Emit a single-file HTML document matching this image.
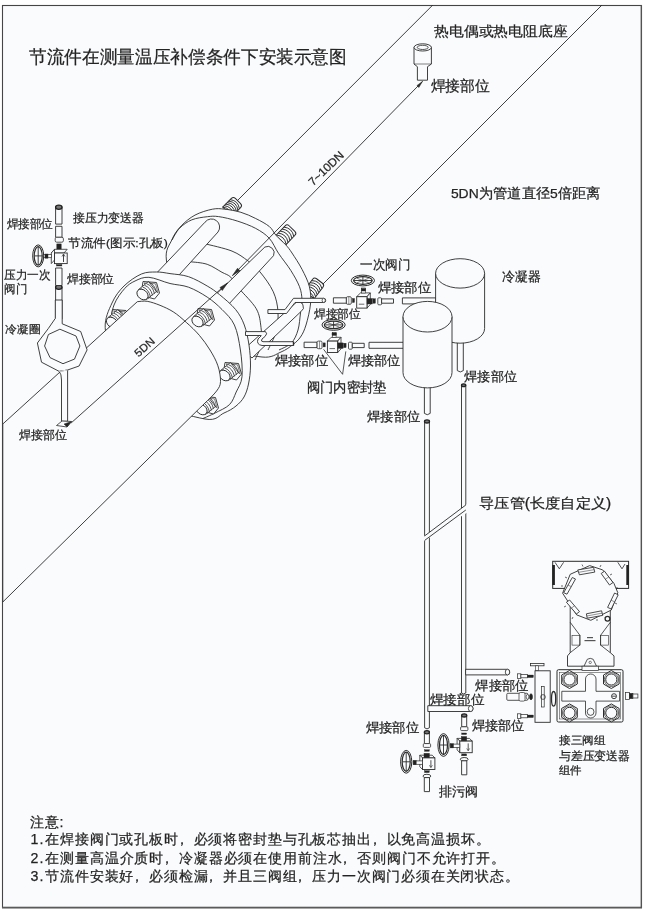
<!DOCTYPE html><html><head><meta charset="utf-8"><style>
html,body{margin:0;padding:0;background:#fff;width:646px;height:912px;overflow:hidden}
svg{position:absolute;left:0;top:0}
text{font-family:"Liberation Sans",sans-serif;stroke:#2a2a2a;stroke-width:0.25px}
svg{-webkit-font-smoothing:antialiased;will-change:transform}
</style></head><body>
<svg width="646" height="912" viewBox="0 0 646 912">
<rect x="2.5" y="5.5" width="639" height="902" fill="#fafbfd" stroke="#454545" stroke-width="1.1"/>
<line x1="2.0" y1="907.6" x2="642.0" y2="907.6" stroke="#5a5a5a" stroke-width="1.6"/>
<line x1="641.3" y1="5.0" x2="641.3" y2="908.0" stroke="#555" stroke-width="1.3"/>
<line x1="432.8" y1="5.0" x2="236.0" y2="202.0" stroke="#2b2b2b" stroke-width="0.9"/>
<line x1="602.0" y1="5.0" x2="323.0" y2="284.0" stroke="#2b2b2b" stroke-width="0.9"/>
<g transform="translate(228.0 211.0) rotate(-45.0)"><path d="M-1 -6.5 L11.3 -6.5 Q14.1 -6.5 14.1 -3.7 L14.1 3.7 Q14.1 6.5 11.3 6.5 L-1 6.5 Z" fill="#fafbfd" stroke="#2b2b2b" stroke-width="1"/><path d="M-1.0 -6.5 Q4.0 0 -1.0 6.5" fill="none" stroke="#2b2b2b" stroke-width="0.9"/><path d="M1.1 -6.5 Q6.1 0 1.1 6.5" fill="none" stroke="#2b2b2b" stroke-width="0.9"/><path d="M3.3 -6.5 Q8.3 0 3.3 6.5" fill="none" stroke="#2b2b2b" stroke-width="0.9"/><path d="M5.4 -6.5 Q10.4 0 5.4 6.5" fill="none" stroke="#2b2b2b" stroke-width="0.9"/><path d="M7.5 -6.5 Q12.5 0 7.5 6.5" fill="none" stroke="#2b2b2b" stroke-width="0.9"/><path d="M9.6 -6.5 Q14.6 0 9.6 6.5" fill="none" stroke="#2b2b2b" stroke-width="0.9"/></g>
<g transform="translate(280.0 241.0) rotate(-46.2)"><path d="M-1 -6.8 L14.5 -6.8 Q17.3 -6.8 17.3 -4.0 L17.3 4.0 Q17.3 6.8 14.5 6.8 L-1 6.8 Z" fill="#fafbfd" stroke="#2b2b2b" stroke-width="1"/><path d="M-1.0 -6.8 Q4.0 0 -1.0 6.8" fill="none" stroke="#2b2b2b" stroke-width="0.9"/><path d="M1.8 -6.8 Q6.8 0 1.8 6.8" fill="none" stroke="#2b2b2b" stroke-width="0.9"/><path d="M4.5 -6.8 Q9.5 0 4.5 6.8" fill="none" stroke="#2b2b2b" stroke-width="0.9"/><path d="M7.3 -6.8 Q12.3 0 7.3 6.8" fill="none" stroke="#2b2b2b" stroke-width="0.9"/><path d="M10.1 -6.8 Q15.1 0 10.1 6.8" fill="none" stroke="#2b2b2b" stroke-width="0.9"/><path d="M12.8 -6.8 Q17.8 0 12.8 6.8" fill="none" stroke="#2b2b2b" stroke-width="0.9"/></g>
<g transform="translate(309.5 294.0) rotate(-52.4)"><path d="M-1 -6.5 L13.6 -6.5 Q16.4 -6.5 16.4 -3.7 L16.4 3.7 Q16.4 6.5 13.6 6.5 L-1 6.5 Z" fill="#fafbfd" stroke="#2b2b2b" stroke-width="1"/><path d="M-1.0 -6.5 Q4.0 0 -1.0 6.5" fill="none" stroke="#2b2b2b" stroke-width="0.9"/><path d="M1.6 -6.5 Q6.6 0 1.6 6.5" fill="none" stroke="#2b2b2b" stroke-width="0.9"/><path d="M4.2 -6.5 Q9.2 0 4.2 6.5" fill="none" stroke="#2b2b2b" stroke-width="0.9"/><path d="M6.7 -6.5 Q11.7 0 6.7 6.5" fill="none" stroke="#2b2b2b" stroke-width="0.9"/><path d="M9.3 -6.5 Q14.3 0 9.3 6.5" fill="none" stroke="#2b2b2b" stroke-width="0.9"/><path d="M11.9 -6.5 Q16.9 0 11.9 6.5" fill="none" stroke="#2b2b2b" stroke-width="0.9"/></g>
<path d="M166.4 260.0 C165.0 249.2 169.4 245.6 171.8 239.9 C174.2 234.2 177.2 230.1 181.1 226.0 C185.0 221.9 189.8 217.9 195.0 215.1 C200.2 212.3 207.4 210.2 212.4 209.2 C217.4 208.2 220.1 208.7 224.8 209.2 C229.6 209.7 235.8 210.8 240.9 212.3 C246.1 213.9 251.0 216.1 255.7 218.5 C260.4 220.9 265.9 223.7 269.3 226.5 C272.7 229.3 273.3 232.2 276.0 235.3 C278.7 238.4 283.0 241.9 285.7 244.8 C288.4 247.8 289.3 248.9 292.0 253.0 C294.7 257.1 299.1 263.7 302.0 269.3 C304.9 274.9 308.0 280.9 309.4 286.7 C310.8 292.5 311.1 297.6 310.5 304.0 C309.9 310.4 307.7 319.5 306.0 325.0 C304.3 330.5 302.7 333.8 300.5 337.0 C298.3 340.2 296.2 342.0 293.0 344.5 C289.8 347.0 286.2 349.9 281.0 352.0 C275.8 354.1 272.2 358.2 262.0 357.0 C251.8 355.8 233.7 353.7 220.0 345.0 C206.3 336.3 188.9 319.2 180.0 305.0 C171.1 290.8 167.8 270.9 166.4 260.0 Z" fill="#fafbfd" stroke="#2b2b2b" stroke-width="0.9" />
<path d="M172.0 240.0 C173.2 238.1 176.2 231.7 179.5 228.3 C182.8 224.9 187.2 221.7 191.9 219.8 C196.6 217.9 203.0 217.2 207.4 216.7 C211.8 216.2 213.6 215.9 218.6 216.6 C223.6 217.3 231.0 219.0 237.2 221.0 C243.4 223.0 250.3 225.5 255.7 228.4 C261.1 231.3 265.5 234.2 269.3 238.3 C273.1 242.5 274.9 247.9 278.5 253.3 C282.1 258.7 287.4 265.0 290.9 270.6 C294.4 276.2 297.6 281.8 299.5 286.7 C301.4 291.6 301.8 295.6 302.0 300.0 C302.2 304.4 301.2 308.0 300.5 313.0 C299.8 318.0 299.5 325.0 298.0 330.0 C296.5 335.0 294.6 339.7 291.4 343.0 C288.2 346.3 281.1 348.8 279.0 350.0" fill="none" stroke="#2b2b2b" stroke-width="0.9" />
<path d="M204.8 243.7 C209.3 244.9 224.8 248.2 232.0 251.1 C239.2 254.0 243.4 257.6 248.1 261.0 C252.8 264.4 255.7 266.7 259.9 271.8 C264.1 276.9 270.3 285.1 273.3 291.8 C276.3 298.5 277.6 305.3 278.0 312.0 C278.4 318.7 277.7 325.7 276.0 332.0 C274.3 338.3 269.3 347.0 268.0 350.0" fill="none" stroke="#2b2b2b" stroke-width="0.9" />
<path d="M189.9 261.7 C192.8 262.1 201.8 262.5 207.2 264.3 C212.5 266.1 218.1 270.2 222.0 272.3 C225.9 274.4 227.9 274.5 230.8 277.2 C233.7 279.9 235.1 283.4 239.3 288.7 C243.6 294.0 252.7 302.4 256.3 308.8 C259.9 315.2 260.2 321.4 261.0 327.4 C261.8 333.4 262.0 339.6 261.0 345.0 C260.0 350.4 256.0 357.5 255.0 360.0" fill="none" stroke="#2b2b2b" stroke-width="0.9" />
<path d="M205 222.2 L150 280 L170 285 L218 232 A7.5 7.5 0 0 0 205 222.2 Z" fill="#fafbfd" stroke="#2b2b2b" stroke-width="0.9" />
<path d="M264.9 247 L205 305 L228 305 L273.5 255.7 A6.5 6.5 0 0 0 264.9 247 Z" fill="#fafbfd" stroke="#2b2b2b" stroke-width="0.9" />
<path d="M296.5 302.2 L243 350 L252 358 L301 311.5 A5.2 5.2 0 0 0 296.5 302.2 Z" fill="#fafbfd" stroke="#2b2b2b" stroke-width="0.9" />
<line x1="422.5" y1="81.4" x2="232.5" y2="275.5" stroke="#2b2b2b" stroke-width="0.9"/>
<polygon points="422.5,81.4 417.0,85.5 418.8,87.5" fill="#2b2b2b" stroke="#2b2b2b" stroke-width="0.5" stroke-linejoin="round"/>
<polygon points="232.5,275.5 237.5,268.3 240.0,270.8" fill="#2b2b2b" stroke="#2b2b2b" stroke-width="0.6" stroke-linejoin="round"/>
<path d="M105.2 327.5 C104.7 318.0 108.9 309.9 112.0 303.0 C115.1 296.1 119.1 290.8 124.0 286.0 C128.9 281.2 136.0 276.3 141.4 274.0 C146.8 271.7 151.5 272.1 156.3 272.0 C161.1 271.9 164.6 272.8 170.0 273.6 C175.4 274.4 182.4 274.6 188.6 276.7 C194.8 278.8 202.0 283.0 207.2 286.0 C212.3 289.0 214.8 290.7 219.5 294.6 C224.2 298.5 231.5 304.4 235.6 309.5 C239.7 314.6 242.1 319.1 244.3 325.0 C246.5 330.9 248.0 338.2 249.0 345.0 C250.0 351.8 250.6 359.5 250.5 366.0 C250.4 372.5 249.6 378.8 248.5 384.0 C247.4 389.2 246.1 393.3 244.0 397.0 C241.9 400.7 239.3 403.3 236.0 406.0 C232.7 408.7 229.2 410.8 224.0 413.0 C218.8 415.2 217.3 421.2 205.0 419.0 C192.7 416.8 165.0 409.8 150.0 400.0 C135.0 390.2 122.5 372.1 115.0 360.0 C107.5 347.9 105.7 337.0 105.2 327.5 Z" fill="#fafbfd" stroke="#2b2b2b" stroke-width="0.9" />
<path d="M109.0 329.0 C109.8 325.0 111.4 311.8 114.0 305.0 C116.6 298.2 121.2 292.5 124.7 288.5 C128.2 284.5 131.0 282.9 135.0 281.0 C139.0 279.1 143.1 276.9 148.9 277.3 C154.7 277.7 163.4 281.9 170.0 283.5 C176.6 285.1 182.4 284.9 188.6 287.2 C194.8 289.5 201.6 293.4 207.2 297.1 C212.8 300.8 217.5 304.9 222.0 309.5 C226.5 314.1 231.3 318.2 234.4 325.0 C237.5 331.8 239.1 341.4 240.4 350.0 C241.7 358.6 242.7 369.7 242.0 376.7 C241.3 383.7 238.3 387.4 236.2 392.0 C234.1 396.6 233.0 401.1 229.5 404.6 C226.0 408.1 219.4 410.7 215.0 413.0 C210.6 415.3 205.0 417.6 203.0 418.5" fill="none" stroke="#2b2b2b" stroke-width="0.9" />
<g transform="translate(151.0 289.0) scale(1.0)"><polygon points="-8,-7.5 5.5,-6.5 8.5,4 3.5,10 -2,8.5 -9,-1" fill="#fafbfd" stroke="#2b2b2b" stroke-width="0.9" stroke-linejoin="round"/><polygon points="-7,-6 4.5,-5.2 7,3.8" fill="none" stroke="#2b2b2b" stroke-width="0.6"/><path d="M-12.5 0.5 L-2.5 -7.5 L5.5 2.5 L-4.5 10.5 Z" fill="#fafbfd" stroke="#2b2b2b" stroke-width="0.8"/><path d="M-10.5 -0.5 Q-4.5 1.5 -2.5 9.5" fill="none" stroke="#2b2b2b" stroke-width="0.8"/><path d="M-8.5 -2.1 Q-2.5 -0.1 -0.5 7.9" fill="none" stroke="#2b2b2b" stroke-width="0.8"/><path d="M-6.5 -3.7 Q-0.5 -1.7 1.5 6.3" fill="none" stroke="#2b2b2b" stroke-width="0.8"/><path d="M-4.5 -5.3 Q1.5 -3.3 3.5 4.7" fill="none" stroke="#2b2b2b" stroke-width="0.8"/><path d="M-2.5 -6.9 Q3.5 -4.9 5.5 3.1" fill="none" stroke="#2b2b2b" stroke-width="0.8"/><ellipse cx="-8.5" cy="5.5" rx="6.2" ry="4.6" transform="rotate(40 -8.5 5.5)" fill="#fafbfd" stroke="#2b2b2b" stroke-width="0.9"/></g>
<g transform="translate(120.5 317.0) scale(1.0)"><polygon points="-8,-7.5 5.5,-6.5 8.5,4 3.5,10 -2,8.5 -9,-1" fill="#fafbfd" stroke="#2b2b2b" stroke-width="0.9" stroke-linejoin="round"/><polygon points="-7,-6 4.5,-5.2 7,3.8" fill="none" stroke="#2b2b2b" stroke-width="0.6"/><path d="M-12.5 0.5 L-2.5 -7.5 L5.5 2.5 L-4.5 10.5 Z" fill="#fafbfd" stroke="#2b2b2b" stroke-width="0.8"/><path d="M-10.5 -0.5 Q-4.5 1.5 -2.5 9.5" fill="none" stroke="#2b2b2b" stroke-width="0.8"/><path d="M-8.5 -2.1 Q-2.5 -0.1 -0.5 7.9" fill="none" stroke="#2b2b2b" stroke-width="0.8"/><path d="M-6.5 -3.7 Q-0.5 -1.7 1.5 6.3" fill="none" stroke="#2b2b2b" stroke-width="0.8"/><path d="M-4.5 -5.3 Q1.5 -3.3 3.5 4.7" fill="none" stroke="#2b2b2b" stroke-width="0.8"/><path d="M-2.5 -6.9 Q3.5 -4.9 5.5 3.1" fill="none" stroke="#2b2b2b" stroke-width="0.8"/><ellipse cx="-8.5" cy="5.5" rx="6.2" ry="4.6" transform="rotate(40 -8.5 5.5)" fill="#fafbfd" stroke="#2b2b2b" stroke-width="0.9"/></g>
<g transform="translate(206.0 316.0) scale(1.0)"><polygon points="-8,-7.5 5.5,-6.5 8.5,4 3.5,10 -2,8.5 -9,-1" fill="#fafbfd" stroke="#2b2b2b" stroke-width="0.9" stroke-linejoin="round"/><polygon points="-7,-6 4.5,-5.2 7,3.8" fill="none" stroke="#2b2b2b" stroke-width="0.6"/><path d="M-12.5 0.5 L-2.5 -7.5 L5.5 2.5 L-4.5 10.5 Z" fill="#fafbfd" stroke="#2b2b2b" stroke-width="0.8"/><path d="M-10.5 -0.5 Q-4.5 1.5 -2.5 9.5" fill="none" stroke="#2b2b2b" stroke-width="0.8"/><path d="M-8.5 -2.1 Q-2.5 -0.1 -0.5 7.9" fill="none" stroke="#2b2b2b" stroke-width="0.8"/><path d="M-6.5 -3.7 Q-0.5 -1.7 1.5 6.3" fill="none" stroke="#2b2b2b" stroke-width="0.8"/><path d="M-4.5 -5.3 Q1.5 -3.3 3.5 4.7" fill="none" stroke="#2b2b2b" stroke-width="0.8"/><path d="M-2.5 -6.9 Q3.5 -4.9 5.5 3.1" fill="none" stroke="#2b2b2b" stroke-width="0.8"/><ellipse cx="-8.5" cy="5.5" rx="6.2" ry="4.6" transform="rotate(40 -8.5 5.5)" fill="#fafbfd" stroke="#2b2b2b" stroke-width="0.9"/></g>
<g transform="translate(233.0 370.0) scale(1.0)"><polygon points="-8,-7.5 5.5,-6.5 8.5,4 3.5,10 -2,8.5 -9,-1" fill="#fafbfd" stroke="#2b2b2b" stroke-width="0.9" stroke-linejoin="round"/><polygon points="-7,-6 4.5,-5.2 7,3.8" fill="none" stroke="#2b2b2b" stroke-width="0.6"/><path d="M-12.5 0.5 L-2.5 -7.5 L5.5 2.5 L-4.5 10.5 Z" fill="#fafbfd" stroke="#2b2b2b" stroke-width="0.8"/><path d="M-10.5 -0.5 Q-4.5 1.5 -2.5 9.5" fill="none" stroke="#2b2b2b" stroke-width="0.8"/><path d="M-8.5 -2.1 Q-2.5 -0.1 -0.5 7.9" fill="none" stroke="#2b2b2b" stroke-width="0.8"/><path d="M-6.5 -3.7 Q-0.5 -1.7 1.5 6.3" fill="none" stroke="#2b2b2b" stroke-width="0.8"/><path d="M-4.5 -5.3 Q1.5 -3.3 3.5 4.7" fill="none" stroke="#2b2b2b" stroke-width="0.8"/><path d="M-2.5 -6.9 Q3.5 -4.9 5.5 3.1" fill="none" stroke="#2b2b2b" stroke-width="0.8"/><ellipse cx="-8.5" cy="5.5" rx="6.2" ry="4.6" transform="rotate(40 -8.5 5.5)" fill="#fafbfd" stroke="#2b2b2b" stroke-width="0.9"/></g>
<g transform="translate(210.0 404.0) scale(1.0)"><polygon points="-8,-7.5 5.5,-6.5 8.5,4 3.5,10 -2,8.5 -9,-1" fill="#fafbfd" stroke="#2b2b2b" stroke-width="0.9" stroke-linejoin="round"/><polygon points="-7,-6 4.5,-5.2 7,3.8" fill="none" stroke="#2b2b2b" stroke-width="0.6"/><path d="M-12.5 0.5 L-2.5 -7.5 L5.5 2.5 L-4.5 10.5 Z" fill="#fafbfd" stroke="#2b2b2b" stroke-width="0.8"/><path d="M-10.5 -0.5 Q-4.5 1.5 -2.5 9.5" fill="none" stroke="#2b2b2b" stroke-width="0.8"/><path d="M-8.5 -2.1 Q-2.5 -0.1 -0.5 7.9" fill="none" stroke="#2b2b2b" stroke-width="0.8"/><path d="M-6.5 -3.7 Q-0.5 -1.7 1.5 6.3" fill="none" stroke="#2b2b2b" stroke-width="0.8"/><path d="M-4.5 -5.3 Q1.5 -3.3 3.5 4.7" fill="none" stroke="#2b2b2b" stroke-width="0.8"/><path d="M-2.5 -6.9 Q3.5 -4.9 5.5 3.1" fill="none" stroke="#2b2b2b" stroke-width="0.8"/><ellipse cx="-8.5" cy="5.5" rx="6.2" ry="4.6" transform="rotate(40 -8.5 5.5)" fill="#fafbfd" stroke="#2b2b2b" stroke-width="0.9"/></g>
<path d="M2.8 424 L137.3 301.7 C139.0 301.6 143.4 300.7 147.2 301.3 C151.0 301.9 155.7 303.6 160.0 305.3 C164.3 307.1 168.8 309.0 173.2 311.8 C177.6 314.6 181.9 318.4 186.3 322.4 C190.7 326.3 195.6 330.9 199.5 335.5 C203.4 340.1 206.9 344.9 210.0 350.0 C213.1 355.1 216.2 360.5 217.9 365.8 C219.7 371.1 220.7 377.4 220.5 381.6 C220.3 385.8 219.2 387.4 216.6 391.0 C214.0 394.6 208.1 399.9 205.0 403.0 C201.9 406.1 199.4 408.4 198.3 409.5 L2.8 602 Z" fill="#fafbfd" stroke="#2b2b2b" stroke-width="0.9" />
<line x1="71.1" y1="423.0" x2="227.5" y2="283.0" stroke="#2b2b2b" stroke-width="0.9"/>
<polygon points="227.5,283.0 220.0,287.5 222.3,290.5" fill="#2b2b2b" stroke="#2b2b2b" stroke-width="0.6" stroke-linejoin="round"/>
<path d="M55.6 286.6 L55.6 319.0 L62.0 319.0 L62.0 286.6 Z" fill="#fafbfd" stroke="#2b2b2b" stroke-width="0.9" />
<ellipse cx="58.8" cy="287.2" rx="3.2" ry="2.1" fill="#777" stroke="#222" stroke-width="1.3" transform="rotate(0 58.8 287.2)"/>
<path d="M55.6 206.6 L55.6 224.1 L62.0 224.1 L62.0 206.6 Z" fill="#fafbfd" stroke="#2b2b2b" stroke-width="0.9" />
<ellipse cx="58.8" cy="207.2" rx="3.2" ry="2.1" fill="#777" stroke="#222" stroke-width="1.3" transform="rotate(0 58.8 207.2)"/>
<path d="M55.6 226.3 L55.6 237.3 L62.0 237.3 L62.0 226.3 Z" fill="#fafbfd" stroke="#2b2b2b" stroke-width="0.9" />
<rect x="55.2" y="237.3" width="8.2" height="4.9" rx="1.5" fill="#fafbfd" stroke="#2b2b2b" stroke-width="0.8"/>
<rect x="56.8" y="243.9" width="4.4" height="7.6" rx="0" fill="#222" stroke="#2b2b2b" stroke-width="0.4"/>
<polygon points="51.3,253.0 54.5,249.3 67.2,249.3 64.0,253.0" fill="#fafbfd" stroke="#2b2b2b" stroke-width="0.8" stroke-linejoin="round"/>
<polygon points="51.3,253.0 54.5,249.3 54.5,260.0 51.3,263.6" fill="#fafbfd" stroke="#2b2b2b" stroke-width="0.8" stroke-linejoin="round"/>
<rect x="54.5" y="253.0" width="12.7" height="10.6" rx="0" fill="#fafbfd" stroke="#2b2b2b" stroke-width="0.9"/>
<line x1="63.5" y1="254.5" x2="63.5" y2="262.0" stroke="#2b2b2b" stroke-width="0.9"/>
<polyline points="62.0,256.5 63.5,254.0 65.0,256.5" fill="none" stroke="#2b2b2b" stroke-width="0.7" stroke-linejoin="round"/>
<rect x="43.5" y="254.5" width="8.0" height="3.2" rx="0" fill="#fafbfd" stroke="#2b2b2b" stroke-width="0.7"/>
<rect x="45.0" y="254.0" width="3.0" height="4.2" rx="0" fill="#222" stroke="#2b2b2b" stroke-width="0.4"/>
<ellipse cx="38.2" cy="255.9" rx="5.5" ry="11.0" fill="#fafbfd" stroke="#2b2b2b" stroke-width="1.0" transform="rotate(0 38.2 255.9)"/>
<ellipse cx="38.2" cy="255.9" rx="4.0" ry="9.2" fill="none" stroke="#2b2b2b" stroke-width="1.2" transform="rotate(0 38.2 255.9)"/>
<line x1="38.2" y1="246.9" x2="38.2" y2="264.9" stroke="#2b2b2b" stroke-width="0.9"/>
<line x1="34.4" y1="255.9" x2="42.1" y2="255.9" stroke="#2b2b2b" stroke-width="0.9"/>
<rect x="56.5" y="264.5" width="5.4" height="1.5" rx="0" fill="#222" stroke="#2b2b2b" stroke-width="0.4"/>
<path d="M55.6 268.0 L55.6 285.5 L62.0 285.5 L62.0 268.0 Z" fill="#fafbfd" stroke="#2b2b2b" stroke-width="0.9" />
<polygon points="62.2,323.8 80.7,331.5 87.1,349.9 79.1,366.0 67.6,370.0 59.2,371.4 41.5,362.2 37.4,343.0 48.4,328.4 55.3,318.4 55.3,300.0 62.2,300.0" fill="#fafbfd" stroke="#2b2b2b" stroke-width="0.9" stroke-linejoin="round"/>
<polygon points="59.9,329.2 76.0,336.0 79.9,346.0 74.5,359.1 63.0,363.7 50.0,357.6 44.6,346.0 48.4,334.5" fill="#fafbfd" stroke="#2b2b2b" stroke-width="0.9" stroke-linejoin="round"/>
<path d="M59.2 371.4 Q61.5 374 61.5 380 L61.5 421.3 L67.6 421.3 L67.6 375 L67.6 370 Z" fill="#fafbfd" stroke="#2b2b2b" stroke-width="0.9" />
<line x1="59.2" y1="371.4" x2="67.6" y2="370.0" stroke="#fafbfd" stroke-width="0.9"/>
<polygon points="56.5,425.5 62.0,421.0 71.5,421.5 67.0,427.0" fill="#fafbfd" stroke="#2b2b2b" stroke-width="0.8" stroke-linejoin="round"/>
<polygon points="64.0,424.0 71.5,421.5 67.0,427.0" fill="#222" stroke="#2b2b2b" stroke-width="0.5" stroke-linejoin="round"/>
<path d="M267.9 309.6 L285 309.6 L293.5 298.3 L323.7 298.3 A2 2.1 0 0 1 323.7 302.5 L295 302.5 L286.5 313.5 L267.9 313.5 Z" fill="#fafbfd" stroke="#2b2b2b" stroke-width="0.9" />
<ellipse cx="323.7" cy="300.4" rx="1.6" ry="2.1" fill="#fafbfd" stroke="#2b2b2b" stroke-width="0.7" transform="rotate(0 323.7 300.4)"/>
<path d="M245.5 331.6 L265.5 331.6 Q268 333.5 265 336.5 L262 339 Q260.5 341.7 263 341.7 L293.5 341.7 L293.5 345.5 L262 345.5 Q256 344.5 258 339 L261 336 Q262 335.5 260 335.5 L245.5 335.5 Z" fill="#fafbfd" stroke="#2b2b2b" stroke-width="0.9" />
<line x1="293.5" y1="341.7" x2="293.5" y2="345.5" stroke="#2b2b2b" stroke-width="1.4"/>
<path d="M333.4 297.8 L346.4 297.8 L346.4 303.2 L333.4 303.2 Z" fill="#fafbfd" stroke="#2b2b2b" stroke-width="0.9" />
<rect x="346.4" y="296.7" width="4.9" height="7.6" rx="1.2" fill="#fafbfd" stroke="#2b2b2b" stroke-width="0.8"/>
<line x1="348.8" y1="297.0" x2="348.8" y2="304.0" stroke="#2b2b2b" stroke-width="0.5"/>
<rect x="352.4" y="298.5" width="2.1" height="4.0" rx="0" fill="#222" stroke="#2b2b2b" stroke-width="0.4"/>
<polygon points="356.7,296.7 360.5,292.9 370.3,292.9 367.0,296.7" fill="#fafbfd" stroke="#2b2b2b" stroke-width="0.8" stroke-linejoin="round"/>
<polygon points="367.0,296.7 370.3,292.9 370.3,304.5 367.0,308.1" fill="#fafbfd" stroke="#2b2b2b" stroke-width="0.8" stroke-linejoin="round"/>
<rect x="356.7" y="296.7" width="10.3" height="11.4" rx="0" fill="#fafbfd" stroke="#2b2b2b" stroke-width="0.9"/>
<line x1="358.8" y1="304.2" x2="364.3" y2="304.2" stroke="#2b2b2b" stroke-width="0.7"/>
<rect x="367.0" y="298.5" width="5.4" height="5.5" rx="0" fill="#222" stroke="#2b2b2b" stroke-width="0.4"/>
<rect x="373.0" y="298.8" width="2.4" height="4.4" rx="0" fill="#222" stroke="#2b2b2b" stroke-width="0.4"/>
<rect x="377.8" y="297.8" width="3.8" height="7.0" rx="1" fill="#fafbfd" stroke="#2b2b2b" stroke-width="0.8"/>
<path d="M381.6 298.9 L393.5 298.9 L393.5 303.2 L381.6 303.2 Z" fill="#fafbfd" stroke="#2b2b2b" stroke-width="0.9" />
<rect x="361.6" y="288.0" width="3.8" height="5.0" rx="0" fill="#fafbfd" stroke="#2b2b2b" stroke-width="0.6"/>
<rect x="361.3" y="288.5" width="4.4" height="2.5" rx="0" fill="#222" stroke="#2b2b2b" stroke-width="0.4"/>
<ellipse cx="362.9" cy="280.5" rx="11.6" ry="5.4" fill="#fafbfd" stroke="#2b2b2b" stroke-width="1.0" transform="rotate(0 362.9 280.5)"/>
<ellipse cx="362.9" cy="280.5" rx="9.3" ry="3.8" fill="none" stroke="#2b2b2b" stroke-width="1.2" transform="rotate(0 362.9 280.5)"/>
<line x1="353.6" y1="280.5" x2="372.2" y2="280.5" stroke="#2b2b2b" stroke-width="0.9"/>
<line x1="362.9" y1="276.7" x2="362.9" y2="284.3" stroke="#2b2b2b" stroke-width="0.9"/>
<line x1="357.1" y1="278.3" x2="368.7" y2="282.7" stroke="#2b2b2b" stroke-width="0.6"/>
<line x1="357.1" y1="282.7" x2="368.7" y2="278.3" stroke="#2b2b2b" stroke-width="0.6"/>
<path d="M304.1 342.2 L317.1 342.2 L317.1 347.6 L304.1 347.6 Z" fill="#fafbfd" stroke="#2b2b2b" stroke-width="0.9" />
<rect x="317.1" y="341.1" width="4.9" height="7.6" rx="1.2" fill="#fafbfd" stroke="#2b2b2b" stroke-width="0.8"/>
<line x1="319.5" y1="341.4" x2="319.5" y2="348.4" stroke="#2b2b2b" stroke-width="0.5"/>
<rect x="323.1" y="342.9" width="2.1" height="4.0" rx="0" fill="#222" stroke="#2b2b2b" stroke-width="0.4"/>
<polygon points="327.4,341.1 331.2,337.3 341.0,337.3 337.7,341.1" fill="#fafbfd" stroke="#2b2b2b" stroke-width="0.8" stroke-linejoin="round"/>
<polygon points="337.7,341.1 341.0,337.3 341.0,348.9 337.7,352.5" fill="#fafbfd" stroke="#2b2b2b" stroke-width="0.8" stroke-linejoin="round"/>
<rect x="327.4" y="341.1" width="10.3" height="11.4" rx="0" fill="#fafbfd" stroke="#2b2b2b" stroke-width="0.9"/>
<line x1="329.5" y1="348.6" x2="335.0" y2="348.6" stroke="#2b2b2b" stroke-width="0.7"/>
<rect x="337.7" y="342.9" width="5.4" height="5.5" rx="0" fill="#222" stroke="#2b2b2b" stroke-width="0.4"/>
<rect x="343.7" y="343.2" width="2.4" height="4.4" rx="0" fill="#222" stroke="#2b2b2b" stroke-width="0.4"/>
<rect x="348.5" y="342.2" width="3.8" height="7.0" rx="1" fill="#fafbfd" stroke="#2b2b2b" stroke-width="0.8"/>
<path d="M352.3 343.3 L364.2 343.3 L364.2 347.6 L352.3 347.6 Z" fill="#fafbfd" stroke="#2b2b2b" stroke-width="0.9" />
<rect x="332.3" y="332.4" width="3.8" height="5.0" rx="0" fill="#fafbfd" stroke="#2b2b2b" stroke-width="0.6"/>
<rect x="332.0" y="332.9" width="4.4" height="2.5" rx="0" fill="#222" stroke="#2b2b2b" stroke-width="0.4"/>
<ellipse cx="333.6" cy="324.9" rx="11.6" ry="5.4" fill="#fafbfd" stroke="#2b2b2b" stroke-width="1.0" transform="rotate(0 333.6 324.9)"/>
<ellipse cx="333.6" cy="324.9" rx="9.3" ry="3.8" fill="none" stroke="#2b2b2b" stroke-width="1.2" transform="rotate(0 333.6 324.9)"/>
<line x1="324.3" y1="324.9" x2="342.9" y2="324.9" stroke="#2b2b2b" stroke-width="0.9"/>
<line x1="333.6" y1="321.1" x2="333.6" y2="328.7" stroke="#2b2b2b" stroke-width="0.9"/>
<line x1="327.8" y1="322.7" x2="339.4" y2="327.1" stroke="#2b2b2b" stroke-width="0.6"/>
<line x1="327.8" y1="327.1" x2="339.4" y2="322.7" stroke="#2b2b2b" stroke-width="0.6"/>
<path d="M402.4 297.9 L436.0 297.9 L436.0 303.9 L402.4 303.9 Z" fill="#fafbfd" stroke="#2b2b2b" stroke-width="0.9" />
<path d="M369.0 342.3 L404.0 342.3 L404.0 348.3 L369.0 348.3 Z" fill="#fafbfd" stroke="#2b2b2b" stroke-width="0.9" />
<line x1="342.6" y1="374.3" x2="323.6" y2="349.3" stroke="#2b2b2b" stroke-width="0.8"/>
<line x1="342.6" y1="374.3" x2="345.8" y2="351.4" stroke="#2b2b2b" stroke-width="0.8"/>
<path d="M414 47.4 L414 64 L417.4 66.7 L417.4 80.2 L427.5 80.2 L427.5 66.7 L431.4 64 L431.4 47.4 Z" fill="#fafbfd" stroke="#2b2b2b" stroke-width="0.9" />
<ellipse cx="422.7" cy="47.4" rx="8.7" ry="3.6" fill="#fafbfd" stroke="#2b2b2b" stroke-width="0.9" transform="rotate(0 422.7 47.4)"/>
<ellipse cx="422.7" cy="47.4" rx="5.5" ry="2.1" fill="none" stroke="#2b2b2b" stroke-width="0.8" transform="rotate(0 422.7 47.4)"/>
<line x1="414.0" y1="64.0" x2="431.4" y2="64.0" stroke="#2b2b2b" stroke-width="0.6"/>
<path d="M457.3 340.0 L457.3 370.6 Q460.3 373.3 463.3 370.6 L463.3 340.0 Z" fill="#fafbfd" stroke="#2b2b2b" stroke-width="0.9" />
<path d="M435.6 273.4 L435.6 328.5 A24.5 14.7 0 0 0 484.6 328.5 L484.6 273.4 Z" fill="#fafbfd" stroke="#2b2b2b" stroke-width="0.9" />
<ellipse cx="460.1" cy="273.4" rx="24.5" ry="14.7" fill="#fafbfd" stroke="#2b2b2b" stroke-width="0.9" transform="rotate(0 460.1 273.4)"/>
<path d="M424.4 385.0 L424.4 413.4 Q427.3 416.0 430.2 413.4 L430.2 385.0 Z" fill="#fafbfd" stroke="#2b2b2b" stroke-width="0.9" />
<path d="M403 316.7 L403 372.6 A24.5 15.3 0 0 0 452 372.6 L452 316.7 Z" fill="#fafbfd" stroke="#2b2b2b" stroke-width="0.9" />
<ellipse cx="427.5" cy="316.7" rx="24.5" ry="15.3" fill="#fafbfd" stroke="#2b2b2b" stroke-width="0.9" transform="rotate(0 427.5 316.7)"/>
<path d="M424.6 420.8 L424.6 727.8 Q427.0 730.0 429.4 727.8 L429.4 420.8 Z" fill="#fafbfd" stroke="#2b2b2b" stroke-width="0.9" />
<ellipse cx="427.0" cy="421.4" rx="2.5" ry="1.6" fill="#777" stroke="#222" stroke-width="1.3" transform="rotate(0 427.0 421.4)"/>
<path d="M461.5 384.6 L461.5 693.0 Q463.6 694.9 465.8 693.0 L465.8 384.6 Z" fill="#fafbfd" stroke="#2b2b2b" stroke-width="0.9" />
<ellipse cx="463.6" cy="385.2" rx="2.1" ry="1.4" fill="#777" stroke="#222" stroke-width="1.3" transform="rotate(0 463.6 385.2)"/>
<path d="M465.6 669.3 L507.5 669.3 A2.2 2.8 0 0 1 507.5 674.9 L465.6 674.9 Z" fill="#fafbfd" stroke="#2b2b2b" stroke-width="0.9" />
<ellipse cx="507.5" cy="672.1" rx="2.2" ry="2.8" fill="#fafbfd" stroke="#2b2b2b" stroke-width="0.8" transform="rotate(0 507.5 672.1)"/>
<path d="M427.8 705.7 L470.7 705.7 A2.3 2.9 0 0 1 470.7 711.5 L427.8 711.5 Z" fill="#fafbfd" stroke="#2b2b2b" stroke-width="0.9" />
<ellipse cx="470.7" cy="708.6" rx="2.3" ry="2.9" fill="#fafbfd" stroke="#2b2b2b" stroke-width="0.8" transform="rotate(0 470.7 708.6)"/>
<polygon points="422.0,537.8 468.0,503.5 468.0,511.8 422.0,542.5" fill="#fafbfd" stroke="#2b2b2b" stroke-width="0" stroke-linejoin="round"/>
<polygon points="422,537.8 468,503.5 468,511.8 422,542.5" fill="#fafbfd" stroke="none"/>
<line x1="424.5" y1="536.0" x2="465.8" y2="505.0" stroke="#2b2b2b" stroke-width="0.9"/>
<line x1="424.5" y1="540.5" x2="465.8" y2="510.0" stroke="#2b2b2b" stroke-width="0.9"/>
<path d="M424.4 731.6 L424.4 743.6 L429.4 743.6 L429.4 731.6 Z" fill="#fafbfd" stroke="#2b2b2b" stroke-width="0.9" />
<ellipse cx="426.9" cy="732.2" rx="2.5" ry="1.6" fill="#777" stroke="#222" stroke-width="1.3" transform="rotate(0 426.9 732.2)"/>
<rect x="423.3" y="743.6" width="7.3" height="3.8" rx="1" fill="#fafbfd" stroke="#2b2b2b" stroke-width="0.8"/>
<rect x="424.5" y="749.8" width="4.8" height="1.5" rx="0" fill="#222" stroke="#2b2b2b" stroke-width="0.4"/>
<polygon points="419.8,755.2 432.2,755.2 434.9,757.9 422.5,757.9" fill="#fafbfd" stroke="#2b2b2b" stroke-width="0.8" stroke-linejoin="round"/>
<polygon points="419.8,755.2 422.5,757.9 422.5,769.5 419.8,766.7" fill="#fafbfd" stroke="#2b2b2b" stroke-width="0.8" stroke-linejoin="round"/>
<rect x="422.5" y="757.9" width="12.4" height="11.6" rx="0" fill="#fafbfd" stroke="#2b2b2b" stroke-width="0.9"/>
<rect x="424.0" y="753.3" width="5.4" height="4.4" rx="0" fill="#222" stroke="#2b2b2b" stroke-width="0.4"/>
<line x1="430.9" y1="760.2" x2="430.9" y2="767.2" stroke="#2b2b2b" stroke-width="0.8"/>
<polyline points="429.4,765.2 430.9,767.7 432.4,765.2" fill="none" stroke="#2b2b2b" stroke-width="0.6" stroke-linejoin="round"/>
<rect x="413.2" y="760.9" width="9.3" height="3.4" rx="0" fill="#fafbfd" stroke="#2b2b2b" stroke-width="0.7"/>
<rect x="413.2" y="760.5" width="3.0" height="4.2" rx="0" fill="#222" stroke="#2b2b2b" stroke-width="0.4"/>
<ellipse cx="406.2" cy="761.8" rx="5.6" ry="11.4" fill="#fafbfd" stroke="#2b2b2b" stroke-width="1.0" transform="rotate(0 406.2 761.8)"/>
<ellipse cx="406.2" cy="761.8" rx="4.0" ry="9.6" fill="none" stroke="#2b2b2b" stroke-width="1.2" transform="rotate(0 406.2 761.8)"/>
<line x1="406.2" y1="752.5" x2="406.2" y2="771.1" stroke="#2b2b2b" stroke-width="0.9"/>
<line x1="402.3" y1="761.8" x2="410.1" y2="761.8" stroke="#2b2b2b" stroke-width="0.9"/>
<rect x="424.5" y="770.7" width="4.8" height="1.9" rx="0" fill="#222" stroke="#2b2b2b" stroke-width="0.4"/>
<ellipse cx="426.9" cy="776.1" rx="3.9" ry="1.8" fill="#fafbfd" stroke="#2b2b2b" stroke-width="0.9" transform="rotate(0 426.9 776.1)"/>
<path d="M424.3 777.6 L424.3 791.6 L429.5 791.6 L429.5 777.6 Z" fill="#fafbfd" stroke="#2b2b2b" stroke-width="0.9" />
<path d="M461.7 714.8 L461.7 726.8 L466.7 726.8 L466.7 714.8 Z" fill="#fafbfd" stroke="#2b2b2b" stroke-width="0.9" />
<ellipse cx="464.2" cy="715.4" rx="2.5" ry="1.6" fill="#777" stroke="#222" stroke-width="1.3" transform="rotate(0 464.2 715.4)"/>
<rect x="460.6" y="726.8" width="7.3" height="3.8" rx="1" fill="#fafbfd" stroke="#2b2b2b" stroke-width="0.8"/>
<rect x="461.8" y="733.0" width="4.8" height="1.5" rx="0" fill="#222" stroke="#2b2b2b" stroke-width="0.4"/>
<polygon points="457.1,738.4 469.5,738.4 472.2,741.1 459.8,741.1" fill="#fafbfd" stroke="#2b2b2b" stroke-width="0.8" stroke-linejoin="round"/>
<polygon points="457.1,738.4 459.8,741.1 459.8,752.7 457.1,749.9" fill="#fafbfd" stroke="#2b2b2b" stroke-width="0.8" stroke-linejoin="round"/>
<rect x="459.8" y="741.1" width="12.4" height="11.6" rx="0" fill="#fafbfd" stroke="#2b2b2b" stroke-width="0.9"/>
<rect x="461.3" y="736.5" width="5.4" height="4.4" rx="0" fill="#222" stroke="#2b2b2b" stroke-width="0.4"/>
<line x1="468.2" y1="743.4" x2="468.2" y2="750.4" stroke="#2b2b2b" stroke-width="0.8"/>
<polyline points="466.7,748.4 468.2,750.9 469.7,748.4" fill="none" stroke="#2b2b2b" stroke-width="0.6" stroke-linejoin="round"/>
<rect x="450.5" y="744.1" width="9.3" height="3.4" rx="0" fill="#fafbfd" stroke="#2b2b2b" stroke-width="0.7"/>
<rect x="450.5" y="743.7" width="3.0" height="4.2" rx="0" fill="#222" stroke="#2b2b2b" stroke-width="0.4"/>
<ellipse cx="443.5" cy="745.0" rx="5.6" ry="11.4" fill="#fafbfd" stroke="#2b2b2b" stroke-width="1.0" transform="rotate(0 443.5 745.0)"/>
<ellipse cx="443.5" cy="745.0" rx="4.0" ry="9.6" fill="none" stroke="#2b2b2b" stroke-width="1.2" transform="rotate(0 443.5 745.0)"/>
<line x1="443.5" y1="735.7" x2="443.5" y2="754.3" stroke="#2b2b2b" stroke-width="0.9"/>
<line x1="439.6" y1="745.0" x2="447.4" y2="745.0" stroke="#2b2b2b" stroke-width="0.9"/>
<rect x="461.8" y="753.9" width="4.8" height="1.9" rx="0" fill="#222" stroke="#2b2b2b" stroke-width="0.4"/>
<ellipse cx="464.2" cy="759.3" rx="3.9" ry="1.8" fill="#fafbfd" stroke="#2b2b2b" stroke-width="0.9" transform="rotate(0 464.2 759.3)"/>
<path d="M461.6 760.8 L461.6 774.8 L466.8 774.8 L466.8 760.8 Z" fill="#fafbfd" stroke="#2b2b2b" stroke-width="0.9" />
<rect x="517.6" y="673.8" width="3.3" height="4.6" rx="0" fill="#fafbfd" stroke="#2b2b2b" stroke-width="0.7"/>
<rect x="520.9" y="674.6" width="6.5" height="3.2" rx="0" fill="#fafbfd" stroke="#2b2b2b" stroke-width="0.7"/>
<rect x="527.4" y="675.0" width="6.0" height="2.6" rx="0" fill="#222" stroke="#2b2b2b" stroke-width="0.3"/>
<rect x="506.8" y="693.3" width="21.0" height="7.0" rx="1" fill="#fafbfd" stroke="#2b2b2b" stroke-width="0.8"/>
<rect x="519.0" y="692.5" width="6.0" height="8.6" rx="1.5" fill="#fafbfd" stroke="#2b2b2b" stroke-width="0.7"/>
<ellipse cx="527.5" cy="696.8" rx="1.4" ry="2.4" fill="#fafbfd" stroke="#2b2b2b" stroke-width="0.7" transform="rotate(0 527.5 696.8)"/>
<ellipse cx="531.0" cy="696.8" rx="1.4" ry="3.0" fill="#222" stroke="#2b2b2b" stroke-width="0.8" transform="rotate(0 531.0 696.8)"/>
<rect x="517.6" y="713.8" width="3.3" height="4.6" rx="0" fill="#fafbfd" stroke="#2b2b2b" stroke-width="0.7"/>
<rect x="520.9" y="714.6" width="6.5" height="3.2" rx="0" fill="#fafbfd" stroke="#2b2b2b" stroke-width="0.7"/>
<rect x="527.4" y="715.0" width="6.0" height="2.6" rx="0" fill="#222" stroke="#2b2b2b" stroke-width="0.3"/>
<rect x="530.5" y="663.6" width="13.5" height="2.2" rx="0" fill="#fafbfd" stroke="#2b2b2b" stroke-width="0.8"/>
<rect x="535.6" y="665.8" width="2.8" height="5.0" rx="0" fill="#fafbfd" stroke="#2b2b2b" stroke-width="0.6"/>
<rect x="535.0" y="670.8" width="15.2" height="51.5" rx="0" fill="#fafbfd" stroke="#2b2b2b" stroke-width="0.9"/>
<rect x="541.6" y="686.6" width="2.6" height="20.4" rx="0" fill="#fafbfd" stroke="#2b2b2b" stroke-width="0.7"/>
<ellipse cx="543.0" cy="697.0" rx="2.4" ry="2.4" fill="none" stroke="#2b2b2b" stroke-width="0.7" transform="rotate(0 543.0 697.0)"/>
<ellipse cx="553.6" cy="698.8" rx="2.1" ry="7.3" fill="none" stroke="#2b2b2b" stroke-width="1.3" transform="rotate(0 553.6 698.8)"/>
<rect x="557.0" y="669.7" width="66.0" height="52.3" rx="1.5" fill="#fafbfd" stroke="#2b2b2b" stroke-width="1.0"/>
<rect x="559.5" y="672.5" width="61.0" height="46.5" rx="0" fill="none" stroke="#2b2b2b" stroke-width="0.5"/>
<path d="M585.5 679 A5.25 5 0 0 1 596 679 L596 691.3 L619.6 691.3 L619.6 701.1 L596 701.1 L596 713 A5.25 5 0 0 1 585.5 713 L585.5 701.1 L561.8 701.1 L561.8 691.3 L585.5 691.3 Z" fill="none" stroke="#2b2b2b" stroke-width="0.8" />
<ellipse cx="590.6" cy="711.8" rx="3.4" ry="3.6" fill="none" stroke="#2b2b2b" stroke-width="0.8" transform="rotate(0 590.6 711.8)"/>
<polygon points="569.5,688.5 561.7,684.0 561.7,675.0 569.5,670.5 577.3,675.0 577.3,684.0" fill="#fafbfd" stroke="#2b2b2b" stroke-width="1.0" stroke-linejoin="round"/>
<ellipse cx="569.5" cy="679.5" rx="7.0" ry="7.0" fill="none" stroke="#2b2b2b" stroke-width="0.7" transform="rotate(0 569.5 679.5)"/>
<ellipse cx="569.5" cy="679.5" rx="5.6" ry="5.6" fill="none" stroke="#2b2b2b" stroke-width="1.0" transform="rotate(0 569.5 679.5)"/>
<polygon points="611.3,688.5 603.5,684.0 603.5,675.0 611.3,670.5 619.1,675.0 619.1,684.0" fill="#fafbfd" stroke="#2b2b2b" stroke-width="1.0" stroke-linejoin="round"/>
<ellipse cx="611.3" cy="679.5" rx="7.0" ry="7.0" fill="none" stroke="#2b2b2b" stroke-width="0.7" transform="rotate(0 611.3 679.5)"/>
<ellipse cx="611.3" cy="679.5" rx="5.6" ry="5.6" fill="none" stroke="#2b2b2b" stroke-width="1.0" transform="rotate(0 611.3 679.5)"/>
<polygon points="569.5,721.9 561.7,717.4 561.7,708.4 569.5,703.9 577.3,708.4 577.3,717.4" fill="#fafbfd" stroke="#2b2b2b" stroke-width="1.0" stroke-linejoin="round"/>
<ellipse cx="569.5" cy="712.9" rx="7.0" ry="7.0" fill="none" stroke="#2b2b2b" stroke-width="0.7" transform="rotate(0 569.5 712.9)"/>
<ellipse cx="569.5" cy="712.9" rx="5.6" ry="5.6" fill="none" stroke="#2b2b2b" stroke-width="1.0" transform="rotate(0 569.5 712.9)"/>
<polygon points="611.3,721.9 603.5,717.4 603.5,708.4 611.3,703.9 619.1,708.4 619.1,717.4" fill="#fafbfd" stroke="#2b2b2b" stroke-width="1.0" stroke-linejoin="round"/>
<ellipse cx="611.3" cy="712.9" rx="7.0" ry="7.0" fill="none" stroke="#2b2b2b" stroke-width="0.7" transform="rotate(0 611.3 712.9)"/>
<ellipse cx="611.3" cy="712.9" rx="5.6" ry="5.6" fill="none" stroke="#2b2b2b" stroke-width="1.0" transform="rotate(0 611.3 712.9)"/>
<ellipse cx="614.0" cy="696.2" rx="2.5" ry="2.5" fill="none" stroke="#2b2b2b" stroke-width="0.9" transform="rotate(0 614.0 696.2)"/>
<line x1="612.0" y1="696.2" x2="616.0" y2="696.2" stroke="#2b2b2b" stroke-width="0.8"/>
<rect x="625.4" y="692.5" width="4.0" height="7.0" rx="0" fill="#fafbfd" stroke="#2b2b2b" stroke-width="0.7"/>
<rect x="629.4" y="693.5" width="3.5" height="5.0" rx="0" fill="#222" stroke="#2b2b2b" stroke-width="0.7"/>
<rect x="632.9" y="694.0" width="5.0" height="4.0" rx="0" fill="#fafbfd" stroke="#2b2b2b" stroke-width="0.7"/>
<path d="M570.2 598 L570.2 652.7 L567.5 655.9 L567.5 666.2 L614 666.2 L614 655.9 L610.3 652.7 L610.3 598 Z" fill="#fafbfd" stroke="#2b2b2b" stroke-width="0.9" />
<polyline points="570.2,622.3 579.9,635.3 579.9,645.1 570.2,652.7" fill="none" stroke="#2b2b2b" stroke-width="0.8" stroke-linejoin="round"/>
<polyline points="610.3,622.3 600.6,635.3 600.6,645.1 610.3,652.7" fill="none" stroke="#2b2b2b" stroke-width="0.8" stroke-linejoin="round"/>
<rect x="572.0" y="635.3" width="7.9" height="9.8" rx="0" fill="none" stroke="#2b2b2b" stroke-width="0.6"/>
<rect x="600.6" y="635.3" width="7.9" height="9.8" rx="0" fill="none" stroke="#2b2b2b" stroke-width="0.6"/>
<rect x="587.0" y="637.0" width="6.0" height="1.2" rx="0" fill="#555" stroke="#2b2b2b" stroke-width="0"/>
<rect x="584.5" y="640.0" width="11.0" height="1.2" rx="0" fill="#555" stroke="#2b2b2b" stroke-width="0"/>
<path d="M584 666.2 L586 662 A4.3 4.3 0 0 1 594.5 662 L596.5 666.2 Z" fill="#fafbfd" stroke="#2b2b2b" stroke-width="0.8" />
<ellipse cx="590.2" cy="662.4" rx="1.2" ry="1.2" fill="none" stroke="#2b2b2b" stroke-width="0.6" transform="rotate(0 590.2 662.4)"/>
<rect x="582.0" y="666.2" width="16.5" height="4.2" rx="0" fill="#fafbfd" stroke="#2b2b2b" stroke-width="0.7"/>
<rect x="552.7" y="561.3" width="75.9" height="27.1" rx="0" fill="#fafbfd" stroke="#2b2b2b" stroke-width="1.0"/>
<rect x="552.3" y="565.0" width="2.6" height="20.0" rx="0" fill="#222" stroke="#2b2b2b" stroke-width="0"/>
<rect x="626.3" y="565.0" width="2.6" height="20.0" rx="0" fill="#222" stroke="#2b2b2b" stroke-width="0"/>
<polyline points="555.0,562.3 559.3,568.8 563.6,562.3" fill="none" stroke="#2b2b2b" stroke-width="0.8" stroke-linejoin="round"/>
<polyline points="617.8,562.3 622.0,568.8 625.0,564.0" fill="none" stroke="#2b2b2b" stroke-width="0.8" stroke-linejoin="round"/>
<polygon points="589.7,565.6 602.7,569.9 614.0,583.5 617.8,592.7 611.3,610.0 590.8,620.3 576.7,614.9 562.6,593.2 570.2,574.3" fill="#fafbfd" stroke="#2b2b2b" stroke-width="0.9" stroke-linejoin="round"/>
<polygon points="577.8,569.9 593.5,567.3 594.8,572.1 579.4,574.8" fill="#fafbfd" stroke="#2b2b2b" stroke-width="0.85" stroke-linejoin="round"/>
<line x1="578.6" y1="572.3" x2="594.1" y2="569.7" stroke="#2b2b2b" stroke-width="0.5"/>
<polygon points="601.2,573.5 604.5,571.2 613.0,582.5 609.5,585.0" fill="#fafbfd" stroke="#2b2b2b" stroke-width="0.85" stroke-linejoin="round"/>
<line x1="605.4" y1="579.2" x2="608.8" y2="576.9" stroke="#2b2b2b" stroke-width="0.5"/>
<polygon points="614.6,593.0 618.2,594.8 611.2,609.0 607.6,607.4" fill="#fafbfd" stroke="#2b2b2b" stroke-width="0.85" stroke-linejoin="round"/>
<line x1="611.1" y1="600.2" x2="614.7" y2="601.9" stroke="#2b2b2b" stroke-width="0.5"/>
<polygon points="586.4,613.8 601.6,610.8 602.7,615.4 587.2,618.2" fill="#fafbfd" stroke="#2b2b2b" stroke-width="0.85" stroke-linejoin="round"/>
<line x1="586.8" y1="616.0" x2="602.2" y2="613.1" stroke="#2b2b2b" stroke-width="0.5"/>
<polygon points="566.4,602.2 569.6,600.0 579.5,611.6 576.4,614.0" fill="#fafbfd" stroke="#2b2b2b" stroke-width="0.85" stroke-linejoin="round"/>
<line x1="571.4" y1="608.1" x2="574.5" y2="605.8" stroke="#2b2b2b" stroke-width="0.5"/>
<polygon points="572.3,577.5 575.5,579.0 567.0,594.2 563.7,592.7" fill="#fafbfd" stroke="#2b2b2b" stroke-width="0.85" stroke-linejoin="round"/>
<line x1="568.0" y1="585.1" x2="571.2" y2="586.6" stroke="#2b2b2b" stroke-width="0.5"/>
<line x1="583.0" y1="566.5" x2="582.0" y2="564.5" stroke="#2b2b2b" stroke-width="0.7"/>
<line x1="600.0" y1="567.0" x2="601.0" y2="565.0" stroke="#2b2b2b" stroke-width="0.7"/>
<line x1="610.0" y1="575.0" x2="612.0" y2="574.0" stroke="#2b2b2b" stroke-width="0.7"/>
<line x1="616.0" y1="588.0" x2="618.0" y2="588.0" stroke="#2b2b2b" stroke-width="0.7"/>
<line x1="615.0" y1="603.0" x2="617.0" y2="604.0" stroke="#2b2b2b" stroke-width="0.7"/>
<line x1="605.0" y1="617.0" x2="606.0" y2="619.0" stroke="#2b2b2b" stroke-width="0.7"/>
<line x1="597.0" y1="619.0" x2="597.0" y2="621.0" stroke="#2b2b2b" stroke-width="0.7"/>
<line x1="573.0" y1="617.0" x2="572.0" y2="619.0" stroke="#2b2b2b" stroke-width="0.7"/>
<line x1="566.0" y1="606.0" x2="564.0" y2="607.0" stroke="#2b2b2b" stroke-width="0.7"/>
<line x1="563.0" y1="586.0" x2="561.0" y2="586.0" stroke="#2b2b2b" stroke-width="0.7"/>
<line x1="567.0" y1="578.0" x2="565.0" y2="577.0" stroke="#2b2b2b" stroke-width="0.7"/>
<ellipse cx="607.5" cy="618.7" rx="2.4" ry="2.4" fill="#fafbfd" stroke="#2b2b2b" stroke-width="1.3" transform="rotate(0 607.5 618.7)"/>
<text x="29.1" y="63.4" font-size="17.72" fill="#222" textLength="317.7" lengthAdjust="spacingAndGlyphs">节流件在测量温压补偿条件下安装示意图</text>
<text x="434.2" y="35.7" font-size="14.43" fill="#222" textLength="133.2" lengthAdjust="spacingAndGlyphs">热电偶或热电阻底座</text>
<text x="430.7" y="90.5" font-size="14.76" fill="#222" textLength="59.2" lengthAdjust="spacingAndGlyphs">焊接部位</text>
<text x="450.9" y="198.2" font-size="13.62" fill="#222" textLength="149.8" lengthAdjust="spacingAndGlyphs">5DN为管道直径5倍距离</text>
<text x="6.6" y="227.6" font-size="11.60" fill="#222" textLength="46.4" lengthAdjust="spacingAndGlyphs">焊接部位</text>
<text x="72.9" y="221.5" font-size="12.09" fill="#222" textLength="71.2" lengthAdjust="spacingAndGlyphs">接压力变送器</text>
<text x="68.2" y="247.0" font-size="11.58" fill="#222" textLength="99.6" lengthAdjust="spacingAndGlyphs">节流件(图示:孔板)</text>
<text x="4.1" y="278.5" font-size="11.99" fill="#222" textLength="46.7" lengthAdjust="spacingAndGlyphs">压力一次</text>
<text x="4.1" y="292.5" font-size="11.90" fill="#222" textLength="23.0" lengthAdjust="spacingAndGlyphs">阀门</text>
<text x="66.8" y="283.1" font-size="12.37" fill="#222" textLength="47.5" lengthAdjust="spacingAndGlyphs">焊接部位</text>
<text x="5.0" y="333.1" font-size="11.25" fill="#222" textLength="35.5" lengthAdjust="spacingAndGlyphs">冷凝圈</text>
<text x="18.9" y="439.4" font-size="12.42" fill="#222" textLength="47.9" lengthAdjust="spacingAndGlyphs">焊接部位</text>
<text x="360.2" y="268.9" font-size="12.56" fill="#222" textLength="50.3" lengthAdjust="spacingAndGlyphs">一次阀门</text>
<text x="377.5" y="291.8" font-size="13.47" fill="#222" textLength="53.7" lengthAdjust="spacingAndGlyphs">焊接部位</text>
<text x="313.9" y="317.9" font-size="11.97" fill="#222" textLength="47.0" lengthAdjust="spacingAndGlyphs">焊接部位</text>
<text x="274.7" y="364.7" font-size="13.32" fill="#222" textLength="53.4" lengthAdjust="spacingAndGlyphs">焊接部位</text>
<text x="347.9" y="364.7" font-size="13.25" fill="#222" textLength="52.8" lengthAdjust="spacingAndGlyphs">焊接部位</text>
<text x="306.7" y="392.1" font-size="13.81" fill="#222" textLength="80.0" lengthAdjust="spacingAndGlyphs">阀门内密封垫</text>
<text x="501.8" y="280.8" font-size="12.85" fill="#222" textLength="39.2" lengthAdjust="spacingAndGlyphs">冷凝器</text>
<text x="464.3" y="381.0" font-size="12.75" fill="#222" textLength="52.8" lengthAdjust="spacingAndGlyphs">焊接部位</text>
<text x="366.9" y="420.6" font-size="12.54" fill="#222" textLength="53.3" lengthAdjust="spacingAndGlyphs">焊接部位</text>
<text x="479.2" y="508.3" font-size="14.32" fill="#222" textLength="132.1" lengthAdjust="spacingAndGlyphs">导压管(长度自定义)</text>
<text x="475.3" y="690.1" font-size="12.88" fill="#222" textLength="53.4" lengthAdjust="spacingAndGlyphs">焊接部位</text>
<text x="429.9" y="703.7" font-size="12.61" fill="#222" textLength="54.3" lengthAdjust="spacingAndGlyphs">焊接部位</text>
<text x="365.7" y="732.0" font-size="12.79" fill="#222" textLength="53.5" lengthAdjust="spacingAndGlyphs">焊接部位</text>
<text x="471.8" y="730.0" font-size="12.99" fill="#222" textLength="52.9" lengthAdjust="spacingAndGlyphs">焊接部位</text>
<text x="439.3" y="795.6" font-size="12.50" fill="#222" textLength="39.1" lengthAdjust="spacingAndGlyphs">排污阀</text>
<text x="559.1" y="744.2" font-size="11.42" fill="#222" textLength="46.5" lengthAdjust="spacingAndGlyphs">接三阀组</text>
<text x="559.1" y="760.1" font-size="11.51" fill="#222" textLength="70.8" lengthAdjust="spacingAndGlyphs">与差压变送器</text>
<text x="559.1" y="773.9" font-size="10.72" fill="#222" textLength="22.8" lengthAdjust="spacingAndGlyphs">组件</text>
<text x="30.0 44.8 59.5" y="826.6" font-size="14.20" fill="#222">注意:</text>
<text x="30.5 39.5 45.2 60.0 74.9 89.7 104.6 119.4 134.2 149.1 163.9 174.8 193.6 208.4 223.3 238.1 253.0 267.8 282.6 297.5 312.3 327.2 342.0 356.8 367.7 386.5 401.4 416.2 431.0 445.9 460.7 475.6" y="844.3" font-size="14.20" fill="#222">1.在焊接阀门或孔板时，必须将密封垫与孔板芯抽出，以免高温损坏。</text>
<text x="30.5 39.5 45.2 60.1 74.9 89.8 104.6 119.5 134.4 149.2 160.1 178.9 193.8 208.7 223.5 238.4 253.2 268.1 283.0 297.8 312.7 327.5 338.4 357.3 372.1 387.0 401.8 416.7 431.6 446.4 461.3 476.1 491.0" y="862.9" font-size="14.20" fill="#222">2.在测量高温介质时，冷凝器必须在使用前注水，否则阀门不允许打开。</text>
<text x="30.5 39.5 45.2 60.0 74.9 89.7 104.5 119.3 130.2 149.0 163.8 178.7 193.5 204.3 223.2 238.0 252.8 267.7 282.5 293.3 312.1 327.0 341.8 356.6 371.5 386.3 401.1 415.9 430.8 445.6 460.4 475.3 490.1 504.9" y="880.5" font-size="14.20" fill="#222">3.节流件安装好，必须检漏，并且三阀组，压力一次阀门必须在关闭状态。</text>
<text x="0" y="0" font-size="11.5" fill="#222" transform="translate(313,186.5) rotate(-44)" textLength="44" lengthAdjust="spacingAndGlyphs">7~10DN</text>
<text x="0" y="0" font-size="11" fill="#222" transform="translate(138.5,357.5) rotate(-42)" textLength="23" lengthAdjust="spacingAndGlyphs">5DN</text>
</svg></body></html>
